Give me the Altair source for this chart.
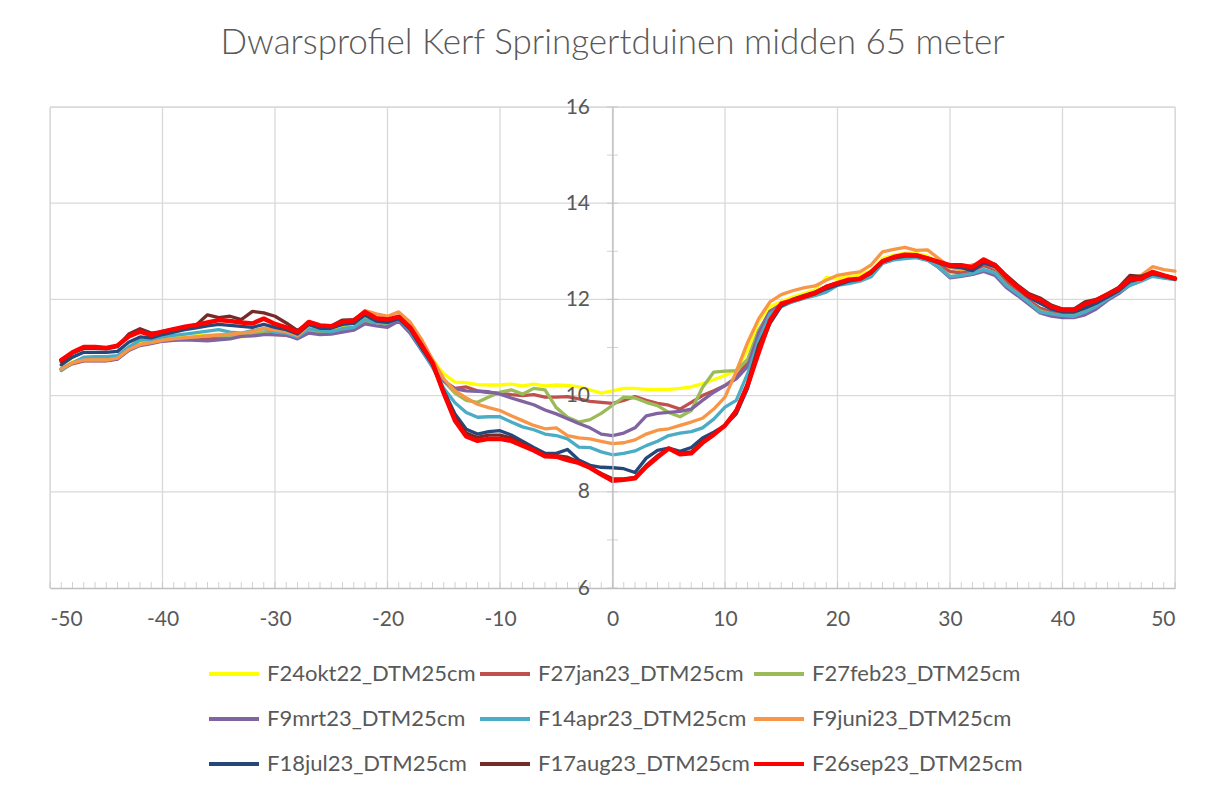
import altair as alt
import pandas as pd

# ---------------- data ----------------
x_m = list(range(-49, 51))

series_names = [
    "F24okt22_DTM25cm", "F27jan23_DTM25cm", "F27feb23_DTM25cm",
    "F9mrt23_DTM25cm", "F14apr23_DTM25cm", "F9juni23_DTM25cm",
    "F18jul23_DTM25cm", "F17aug23_DTM25cm", "F26sep23_DTM25cm",
]
series_colors = ["#FFFF00", "#C0504D", "#9BBB59", "#8064A2", "#4BACC6",
                 "#F79646", "#25477A", "#772B28", "#FF0000"]

okt22 = [10.56, 10.70, 10.76, 10.76, 10.76, 10.80, 10.98, 11.08, 11.12, 11.17,
         11.20, 11.22, 11.24, 11.26, 11.27, 11.25, 11.22, 11.25, 11.30, 11.28,
         11.28, 11.22, 11.38, 11.35, 11.33, 11.42, 11.45, 11.60, 11.55, 11.52,
         11.62, 11.40, 11.05, 10.75, 10.45, 10.28, 10.27, 10.23, 10.22, 10.22,
         10.24, 10.20, 10.24, 10.20, 10.22, 10.21, 10.18, 10.12, 10.05, 10.10,
         10.15, 10.15, 10.13, 10.13, 10.13, 10.15, 10.18, 10.25, 10.33, 10.42,
         10.52, 10.95, 11.55, 11.85, 11.95, 12.05, 12.12, 12.20, 12.46, 12.42,
         12.48, 12.50, 12.60, 12.85, 12.92, 12.96, 12.96, 12.90, 12.78, 12.66,
         12.62, 12.66, 12.76, 12.66, 12.44, 12.25, 12.06, 11.95, 11.83, 11.76,
         11.76, 11.86, 11.96, 12.08, 12.22, 12.40, 12.46, 12.56, 12.50, 12.46]

jan23 = [10.55, 10.66, 10.72, 10.72, 10.72, 10.76, 10.95, 11.05, 11.10, 11.14,
         11.16, 11.18, 11.17, 11.18, 11.19, 11.22, 11.24, 11.27, 11.28, 11.27,
         11.25, 11.20, 11.35, 11.28, 11.30, 11.38, 11.40, 11.55, 11.52, 11.48,
         11.58, 11.35, 11.00, 10.65, 10.30, 10.15, 10.18, 10.10, 10.06, 10.05,
         10.02, 10.00, 10.02, 9.97, 9.97, 9.98, 9.93, 9.88, 9.86, 9.84,
         9.90, 9.98, 9.90, 9.84, 9.80, 9.72, 9.86, 10.00, 10.10, 10.21,
         10.38, 10.70, 11.35, 11.75, 11.90, 11.98, 12.05, 12.12, 12.22, 12.32,
         12.38, 12.42, 12.55, 12.78, 12.86, 12.90, 12.90, 12.84, 12.72, 12.58,
         12.55, 12.60, 12.70, 12.62, 12.38, 12.18, 11.98, 11.82, 11.74, 11.70,
         11.70, 11.78, 11.90, 12.04, 12.18, 12.36, 12.42, 12.52, 12.47, 12.43]

feb23 = [10.56, 10.68, 10.74, 10.74, 10.74, 10.78, 10.96, 11.06, 11.11, 11.16,
         11.18, 11.20, 11.22, 11.24, 11.25, 11.24, 11.26, 11.28, 11.32, 11.30,
         11.30, 11.20, 11.36, 11.32, 11.30, 11.40, 11.42, 11.56, 11.52, 11.50,
         11.60, 11.36, 10.98, 10.62, 10.30, 10.05, 9.90, 9.86, 9.97, 10.07,
         10.12, 10.03, 10.15, 10.12, 9.75, 9.55, 9.45, 9.50, 9.63, 9.80,
         9.97, 9.95, 9.86, 9.79, 9.65, 9.56, 9.69, 10.17, 10.49, 10.51,
         10.52, 10.75, 11.35, 11.72, 11.88, 11.96, 12.04, 12.12, 12.20, 12.30,
         12.36, 12.40, 12.52, 12.77, 12.85, 12.88, 12.88, 12.83, 12.68, 12.48,
         12.50, 12.52, 12.60, 12.55, 12.30, 12.12, 11.94, 11.76, 11.70, 11.66,
         11.66, 11.74, 11.86, 12.02, 12.16, 12.32, 12.40, 12.50, 12.46, 12.42]

mrt23 = [10.55, 10.68, 10.73, 10.73, 10.73, 10.76, 10.94, 11.04, 11.08, 11.13,
         11.15, 11.16, 11.15, 11.14, 11.16, 11.18, 11.23, 11.24, 11.27, 11.27,
         11.26, 11.18, 11.30, 11.27, 11.28, 11.32, 11.36, 11.49, 11.45, 11.42,
         11.55, 11.30, 10.95, 10.60, 10.30, 10.14, 10.10, 10.09, 10.08, 10.03,
         9.95, 9.88, 9.81, 9.70, 9.62, 9.52, 9.42, 9.33, 9.20, 9.17,
         9.22, 9.33, 9.58, 9.63, 9.65, 9.67, 9.72, 9.90, 10.07, 10.21,
         10.35, 10.60, 11.30, 11.75, 11.88, 11.96, 12.04, 12.10, 12.18, 12.30,
         12.36, 12.40, 12.50, 12.76, 12.84, 12.87, 12.88, 12.82, 12.66, 12.45,
         12.48, 12.52, 12.58, 12.50, 12.25, 12.08, 11.90, 11.72, 11.65, 11.62,
         11.62, 11.68, 11.80, 11.98, 12.12, 12.30, 12.40, 12.50, 12.45, 12.42]

apr23 = [10.52, 10.68, 10.80, 10.81, 10.81, 10.83, 11.01, 11.15, 11.17, 11.22,
         11.25, 11.28, 11.31, 11.34, 11.37, 11.32, 11.30, 11.35, 11.39, 11.32,
         11.30, 11.22, 11.39, 11.35, 11.33, 11.39, 11.42, 11.58, 11.52, 11.51,
         11.60, 11.35, 10.97, 10.59, 10.15, 9.85, 9.65, 9.55, 9.56, 9.56,
         9.45, 9.35, 9.29, 9.20, 9.17, 9.10, 8.93, 8.92, 8.83, 8.77,
         8.80, 8.85, 8.96, 9.05, 9.17, 9.22, 9.25, 9.33, 9.51, 9.76,
         9.90, 10.45, 11.15, 11.70, 11.85, 11.95, 12.02, 12.08, 12.15, 12.29,
         12.33, 12.38, 12.47, 12.75, 12.82, 12.85, 12.87, 12.81, 12.67, 12.47,
         12.50, 12.54, 12.62, 12.55, 12.29, 12.12, 11.94, 11.74, 11.70, 11.67,
         11.65, 11.74, 11.85, 12.01, 12.15, 12.29, 12.38, 12.48, 12.44, 12.41]

juni23 = [10.55, 10.68, 10.74, 10.74, 10.74, 10.78, 10.96, 11.06, 11.10, 11.15,
          11.18, 11.20, 11.22, 11.24, 11.26, 11.28, 11.30, 11.33, 11.40, 11.36,
          11.33, 11.25, 11.45, 11.42, 11.42, 11.50, 11.55, 11.77, 11.70, 11.65,
          11.74, 11.53, 11.18, 10.75, 10.35, 10.10, 9.95, 9.82, 9.75, 9.69,
          9.58, 9.48, 9.38, 9.31, 9.33, 9.17, 9.12, 9.10, 9.05, 9.00,
          9.02, 9.08, 9.20, 9.28, 9.31, 9.38, 9.45, 9.53, 9.72, 9.97,
          10.50, 11.10, 11.60, 11.95, 12.10, 12.18, 12.24, 12.28, 12.40, 12.50,
          12.54, 12.57, 12.72, 12.99, 13.04, 13.08, 13.02, 13.03, 12.85, 12.67,
          12.62, 12.72, 12.76, 12.66, 12.45, 12.28, 12.10, 11.98, 11.85, 11.78,
          11.76, 11.86, 11.98, 12.10, 12.25, 12.42, 12.50, 12.68, 12.62, 12.59]

jul23 = [10.64, 10.80, 10.90, 10.90, 10.90, 10.92, 11.11, 11.22, 11.20, 11.27,
         11.32, 11.37, 11.41, 11.45, 11.48, 11.46, 11.44, 11.42, 11.48, 11.42,
         11.37, 11.28, 11.48, 11.40, 11.40, 11.48, 11.50, 11.67, 11.55, 11.52,
         11.60, 11.38, 11.00, 10.65, 10.10, 9.62, 9.30, 9.20, 9.25, 9.27,
         9.18, 9.05, 8.92, 8.80, 8.80, 8.88, 8.66, 8.55, 8.51, 8.50,
         8.48, 8.40, 8.70, 8.86, 8.91, 8.84, 8.92, 9.12, 9.24, 9.38,
         9.62, 10.15, 10.95, 11.50, 11.86, 11.98, 12.05, 12.12, 12.22, 12.30,
         12.38, 12.42, 12.55, 12.78, 12.86, 12.90, 12.90, 12.85, 12.76, 12.68,
         12.66, 12.60, 12.76, 12.68, 12.45, 12.25, 12.05, 11.92, 11.80, 11.74,
         11.74, 11.82, 11.92, 12.05, 12.18, 12.38, 12.43, 12.53, 12.48, 12.42]

aug23 = [10.70, 10.88, 10.98, 10.98, 10.97, 11.02, 11.28, 11.39, 11.30, 11.33,
         11.38, 11.42, 11.47, 11.68, 11.62, 11.65, 11.58, 11.75, 11.72, 11.65,
         11.51, 11.35, 11.52, 11.46, 11.45, 11.57, 11.58, 11.73, 11.60, 11.58,
         11.63, 11.42, 11.05, 10.67, 10.05, 9.55, 9.22, 9.13, 9.18, 9.18,
         9.12, 9.00, 8.88, 8.76, 8.75, 8.72, 8.62, 8.50, 8.38, 8.27,
         8.27, 8.30, 8.55, 8.75, 8.90, 8.80, 8.83, 9.05, 9.20, 9.38,
         9.70, 10.25, 11.05, 11.55, 11.90, 12.00, 12.08, 12.15, 12.27, 12.34,
         12.40, 12.43, 12.57, 12.80, 12.88, 12.92, 12.92, 12.86, 12.78, 12.70,
         12.70, 12.65, 12.80, 12.73, 12.50, 12.30, 12.12, 12.03, 11.88, 11.80,
         11.80, 11.95, 12.00, 12.12, 12.25, 12.50, 12.48, 12.57, 12.50, 12.45]

sep23 = [10.74, 10.90, 11.01, 11.01, 10.99, 11.04, 11.23, 11.33, 11.26, 11.33,
         11.38, 11.43, 11.47, 11.52, 11.57, 11.55, 11.52, 11.50, 11.60, 11.49,
         11.42, 11.32, 11.53, 11.46, 11.44, 11.53, 11.56, 11.74, 11.61, 11.58,
         11.64, 11.42, 11.06, 10.68, 10.05, 9.48, 9.15, 9.06, 9.10, 9.10,
         9.06, 8.96, 8.86, 8.74, 8.73, 8.66, 8.60, 8.50, 8.36, 8.23,
         8.25, 8.28, 8.52, 8.72, 8.90, 8.78, 8.80, 9.02, 9.19, 9.38,
         9.68, 10.21, 10.90, 11.56, 11.91, 11.98, 12.05, 12.13, 12.26, 12.34,
         12.41, 12.43, 12.57, 12.79, 12.88, 12.93, 12.92, 12.85, 12.78, 12.71,
         12.71, 12.67, 12.83, 12.71, 12.47, 12.26, 12.08, 11.99, 11.85, 11.78,
         11.78, 11.90, 11.98, 12.10, 12.22, 12.43, 12.43, 12.57, 12.50, 12.43]

all_values = [okt22, jan23, feb23, mrt23, apr23, juni23, jul23, aug23, sep23]

x_ticks = [-50, -40, -30, -20, -10, 0, 10, 20, 30, 40, 50]
y_ticks = [6, 8, 10, 12, 14, 16]
x_minor = list(range(-50, 51))
y_minor = list(range(6, 17))

title_text = "Dwarsprofiel Kerf Springertduinen midden 65 meter"

# ---------------- tables ----------------
rows = []
for name, vals in zip(series_names, all_values):
    for xv, yv in zip(x_m, vals):
        rows.append({"series": name, "x": xv, "z": yv})
df = pd.DataFrame(rows)

FONT = "Lato"
GRID = "#D9D9D9"
AXIS = "#BFBFBF"
TXT = "#595959"

xs = alt.Scale(domain=[-50, 50], nice=False, zero=False)
ys = alt.Scale(domain=[6, 16], nice=False, zero=False)

x_axis = alt.Axis(values=x_ticks, grid=False, ticks=False, domainColor=AXIS,
                  domainWidth=1.3, labelPadding=20, labelFontSize=21,
                  labelColor=TXT, labelFont=FONT, zindex=1, title=None,
                  labelExpr="datum.value < 0 ? '-' + abs(datum.value) : '' + datum.value")
y_axis = alt.Axis(values=y_ticks, grid=False, ticks=False, domainColor=AXIS,
                  domainWidth=1.3, offset=-562.5, labelPadding=23, title=None,
                  labelFontSize=21, labelColor=TXT, labelFont=FONT, zindex=1)

hgrid = alt.Chart(pd.DataFrame({"v": y_ticks[1:]})).mark_rule(
    color=GRID, strokeWidth=1.3
).encode(y=alt.Y("v:Q", scale=ys, axis=y_axis))

vgrid = alt.Chart(pd.DataFrame({"v": x_ticks})).mark_rule(
    color=GRID, strokeWidth=1.3
).encode(x=alt.X("v:Q", scale=xs, axis=x_axis))

xminor = alt.Chart(pd.DataFrame({"v": x_minor, "b": [6] * len(x_minor)})).mark_tick(
    orient="vertical", size=6, thickness=1, color=AXIS, yOffset=-3
).encode(x=alt.X("v:Q", scale=xs, axis=x_axis), y=alt.Y("b:Q", scale=ys, axis=y_axis))

yminor = alt.Chart(pd.DataFrame({"v": y_minor, "a": [0] * len(y_minor)})).mark_tick(
    orient="horizontal", size=11, thickness=1, color=AXIS
).encode(x=alt.X("a:Q", scale=xs, axis=x_axis), y=alt.Y("v:Q", scale=ys, axis=y_axis))

lines = alt.Chart(df).mark_line(strokeJoin="round", strokeCap="round").encode(
    x=alt.X("x:Q", scale=xs, axis=x_axis),
    y=alt.Y("z:Q", scale=ys, axis=y_axis),
    color=alt.Color("series:N",
                    scale=alt.Scale(domain=series_names, range=series_colors),
                    sort=series_names,
                    legend=alt.Legend(title=None, orient="none", legendX=157, legendY=540,
                                      columns=3, direction="horizontal",
                                      symbolType="stroke", symbolSize=2500,
                                      symbolStrokeWidth=4, labelFontSize=22,
                                      labelFont=FONT, labelColor=TXT, labelOffset=6,
                                      columnPadding=-4, rowPadding=7, gridAlign="each",
                                      labelLimit=400)),
    strokeWidth=alt.condition(alt.datum.series == "F26sep23_DTM25cm",
                              alt.value(4.5), alt.value(3.3)),
    detail="series:N",
)

chart = alt.layer(hgrid, vgrid, xminor, yminor, lines).properties(
    width=1125, height=481,
    title=alt.TitleParams(title_text, fontSize=35, font=FONT, fontWeight=300,
                          color=TXT, anchor="middle", offset=35),
    autosize=alt.AutoSizeParams(type="none"),
    padding={"left": 42, "top": 99, "right": 28, "bottom": 195},
).configure_view(stroke=None).configure(background="white")

chart.save("out.html", embed_options={"renderer": "svg", "actions": False})
